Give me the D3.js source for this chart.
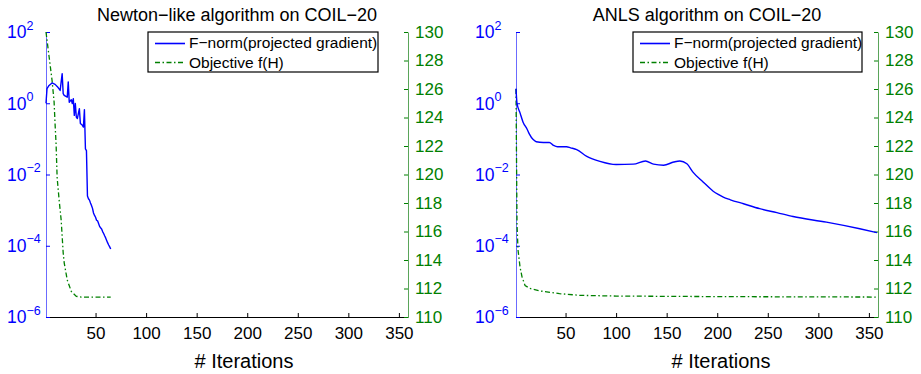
<!DOCTYPE html>
<html>
<head>
<meta charset="utf-8">
<title>Newton-like vs ANLS on COIL-20</title>
<style>
  body { margin: 0; background: #fff; }
  svg text { font-family: "Liberation Sans", Arial, Helvetica, sans-serif; }
</style>
</head>
<body>
<svg width="921" height="374"></svg>
<script src="https://cdnjs.cloudflare.com/ajax/libs/d3/7.8.5/d3.min.js"></script>
<script>
  // ---- data ----
  const iterTicks = [50, 100, 150, 200, 250, 300, 350];
  const gradExpTicks = [2, 0, -2, -4, -6];
  const objTicks = [110, 112, 114, 116, 118, 120, 122, 124, 126, 128, 130];

  // Newton-like: F-norm of projected gradient
  const newtonGradIter = [1, 2, 4, 7, 10, 13, 15, 17, 18, 19, 22, 23, 24, 26, 27, 28, 29, 30, 31, 32, 34, 35, 37, 38, 39, 40, 41,
    42, 43, 44, 45, 46, 47, 48, 49, 50, 51, 52, 53, 54, 55, 56, 57, 58, 59, 60, 61, 62, 63, 64, 65];
  const newtonGradVal = [1.0, 2.57, 3.16, 3.72, 3.39, 2.75, 2.29, 6.76, 1.86, 1.66, 1.48, 3.98, 1.07, 1.26, 0.98, 1.35, 0.457, 0.98, 0.407, 0.372, 0.708, 0.269, 0.240, 0.214, 0.661, 0.0525, 0.0468,
    2.5e-3, 2.09e-3, 1.91e-3, 1.58e-3, 1.35e-3, 1.12e-3, 8.3e-4, 7.1e-4, 6.3e-4, 5.2e-4, 5.0e-4, 4.2e-4, 3.5e-4, 3.2e-4, 2.95e-4, 2.5e-4, 2.2e-4, 1.9e-4, 1.66e-4, 1.41e-4, 1.2e-4, 1.05e-4, 9.3e-5, 8.1e-5];

  // Newton-like: objective f(H)
  const newtonObjIter = [1, 4, 7, 9, 10, 11, 12, 14, 16, 18, 19, 20, 22, 26, 31, 36, 65];
  const newtonObjVal = [130, 128.3, 126.6, 125.1, 123.5, 122.1, 119.8, 118.2, 116.8, 114.5, 113.8, 113.4, 112.6, 111.8, 111.45, 111.4, 111.4];

  // ANLS: F-norm of projected gradient
  const anlsGradIter = [1, 2, 5, 8, 12, 14, 18, 21, 28, 34, 38, 42, 51, 55, 61, 71, 84, 100, 117, 129, 137, 147, 157, 163, 170, 176, 186, 196, 201, 206, 213, 226, 242, 259, 275, 308, 341, 358];
  const anlsGradVal = [2.57, 1.0, 0.537, 0.295, 0.186, 0.141, 0.0955, 0.0832, 0.0794, 0.0794, 0.066, 0.060, 0.060, 0.056, 0.050, 0.0324, 0.0234, 0.0191, 0.0195, 0.024, 0.0195, 0.0182, 0.0224, 0.024, 0.020, 0.0117, 6.2e-3, 3.4e-3, 2.75e-3, 2.3e-3, 1.95e-3, 1.51e-3, 1.10e-3, 8.5e-4, 6.6e-4, 4.6e-4, 3.0e-4, 2.34e-4];

  // ANLS: objective f(H)
  const anlsObjIter = [1, 2, 3, 5, 7, 10, 15, 25, 44, 64, 100, 200, 358];
  const anlsObjVal = [126, 116.5, 114.7, 113.5, 112.8, 112.2, 112.0, 111.83, 111.64, 111.52, 111.47, 111.43, 111.4];

  const legendLabels = ["F\u2212norm(projected gradient)", "Objective f(H)"];

  const BLUE = "#0000ff", GREEN = "#008000";

  const svg = d3.select("svg");
  const plotTop = 32, plotBottom = 317;

  function zip(xs, ys) { return xs.map((x, i) => ({ x: x, y: ys[i] })); }

  function drawPanel(p) {
    const g = svg.append("g");
    const x = d3.scaleLinear().domain([1, 359]).range([p.x0, p.x1]);
    const yL = d3.scaleLog().domain([1e-6, 1e2]).range([plotBottom, plotTop]);
    const yR = d3.scaleLinear().domain([110, 130]).range([plotBottom, plotTop]);

    // bottom axis
    const xAxis = d3.axisBottom(x).tickValues(iterTicks).tickSizeInner(-4).tickSizeOuter(0).tickPadding(10);
    const gx = g.append("g").attr("transform", `translate(0,${plotBottom})`).call(xAxis);
    gx.select(".domain").attr("stroke", "#000").attr("stroke-width", 1.2);
    gx.selectAll(".tick line").attr("stroke", "#000");
    gx.selectAll(".tick text").attr("font-size", 17).attr("fill", "#000")
      .attr("font-family", '"Liberation Sans", Arial, sans-serif');

    // left log axis (blue)
    const gl = g.append("g").attr("transform", `translate(${p.x0},0)`)
      .call(d3.axisLeft(yL).tickValues(gradExpTicks.map(e => Math.pow(10, e))).tickSizeInner(-4).tickSizeOuter(0).tickFormat(""));
    gl.select(".domain").attr("stroke", "#6b6bff");
    gl.selectAll(".tick line").attr("stroke", BLUE);
    gradExpTicks.forEach(e => {
      const yy = yL(Math.pow(10, e));
      const t = g.append("text").attr("x", p.labX).attr("y", yy + 6.3)
        .attr("fill", BLUE).attr("font-size", 17.5).text("10");
      t.append("tspan").attr("font-size", 12.5).attr("dy", -8.8)
        .text(e < 0 ? "\u2212" + (-e) : String(e));
    });

    // right linear axis (green)
    const gr = g.append("g").attr("transform", `translate(${p.x1},0)`)
      .call(d3.axisRight(yR).tickValues(objTicks).tickSizeInner(-4).tickSizeOuter(0).tickPadding(7));
    gr.select(".domain").attr("stroke", "#5aa55a");
    gr.selectAll(".tick line").attr("stroke", GREEN);
    gr.selectAll(".tick text").attr("font-size", 17).attr("fill", GREEN)
      .attr("font-family", '"Liberation Sans", Arial, sans-serif');

    // series
    g.append("path").datum(zip(p.objIter, p.objVal))
      .attr("fill", "none").attr("stroke", GREEN).attr("stroke-width", 1.3)
      .attr("stroke-dasharray", "5,2.5,1.5,2.5")
      .attr("d", d3.line().x(d => x(d.x)).y(d => yR(d.y)));
    g.append("path").datum(zip(p.gradIter, p.gradVal))
      .attr("fill", "none").attr("stroke", BLUE).attr("stroke-width", 1.4)
      .attr("stroke-linejoin", "round")
      .attr("d", d3.line().curve(p.curve).x(d => x(d.x)).y(d => yL(d.y)));

    // titles
    g.append("text").attr("x", p.titleX).attr("y", 21).attr("text-anchor", "middle")
      .attr("font-size", 18).text(p.title);
    g.append("text").attr("x", p.xlabX).attr("y", 368).attr("text-anchor", "middle")
      .attr("font-size", 20).text("# Iterations");

    // legend
    const lg = g.append("g").attr("transform", `translate(${p.legX},32)`);
    lg.append("rect").attr("width", p.legW).attr("height", 40)
      .attr("fill", "#fff").attr("stroke", "#000").attr("stroke-width", 1.2);
    lg.append("line").attr("x1", 7).attr("x2", 37).attr("y1", 11.5).attr("y2", 11.5)
      .attr("stroke", BLUE).attr("stroke-width", 1.6);
    lg.append("line").attr("x1", 7).attr("x2", 37).attr("y1", 30.5).attr("y2", 30.5)
      .attr("stroke", GREEN).attr("stroke-width", 1.3).attr("stroke-dasharray", "5,2.5,1.5,2.5");
    legendLabels.forEach((s, i) => {
      lg.append("text").attr("x", 41).attr("y", 16.3 + i * 20).attr("font-size", 15.5).text(s);
    });
  }

  drawPanel({
    x0: 46, x1: 408, labX: 7, titleX: 237, xlabX: 244, legX: 148, legW: 230,
    title: "Newton\u2212like algorithm on COIL\u221220",
    gradIter: newtonGradIter, gradVal: newtonGradVal,
    objIter: newtonObjIter, objVal: newtonObjVal, curve: d3.curveLinear
  });
  drawPanel({
    x0: 516, x1: 878, labX: 475, titleX: 707, xlabX: 721, legX: 633, legW: 229,
    title: "ANLS algorithm on COIL\u221220",
    gradIter: anlsGradIter, gradVal: anlsGradVal,
    objIter: anlsObjIter, objVal: anlsObjVal, curve: d3.curveMonotoneX
  });
</script>
</body>
</html>
